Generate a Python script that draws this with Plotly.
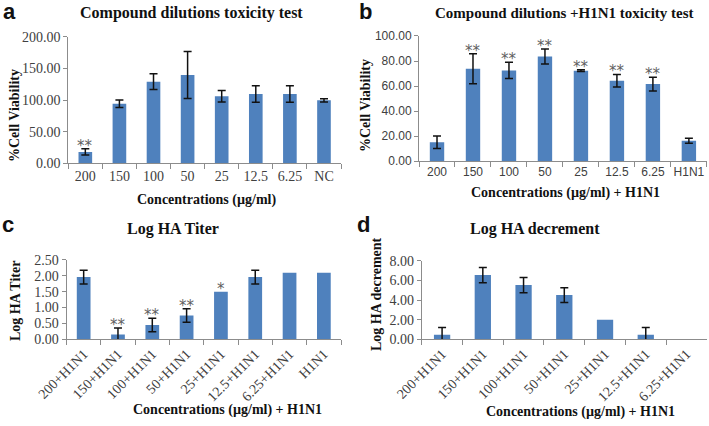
import plotly.graph_objects as go

# panel a
conc_a = ["200", "150", "100", "50", "25", "12.5", "6.25", "NC"]
viab_a = [18, 94, 129, 139.5, 106, 109.5, 109.5, 99.5]
err_a = [5, 6, 12.5, 37, 9, 13, 13, 2.5]
stars_a = ["**", "", "", "", "", "", "", ""]

# panel b
conc_b = ["200", "150", "100", "50", "25", "12.5", "6.25", "H1N1"]
viab_b = [15, 73.9, 72.5, 83.7, 72.3, 64.3, 61.6, 16.3]
err_b = [5, 12, 6.5, 6, 0.7, 5, 5.5, 2]
stars_b = ["", "**", "**", "**", "**", "**", "**", ""]

# panel c (None = no error bar shown)
conc_c = ["200+H1N1", "150+H1N1", "100+H1N1", "50+H1N1", "25+H1N1",
          "12.5+H1N1", "6.25+H1N1", "H1N1"]
titer_c = [1.96, 0.15, 0.45, 0.75, 1.5, 1.96, 2.1, 2.1]
err_c = [0.22, 0.21, 0.21, 0.21, None, 0.22, None, None]
stars_c = ["", "**", "**", "**", "*", "", "", ""]

# panel d
conc_d = ["200+H1N1", "150+H1N1", "100+H1N1", "50+H1N1", "25+H1N1",
          "12.5+H1N1", "6.25+H1N1"]
decr_d = [0.47, 6.54, 5.52, 4.5, 2.0, 0.47, 0]
err_d = [0.73, 0.78, 0.78, 0.75, None, 0.73, None]

BLUE = "#4F81BD"
AXIS = "#8C8C8C"
SERIF = "Liberation Serif"
SANS = "Liberation Sans"

fig = go.Figure()

panels = [
    ("x", "y", conc_a, viab_a, err_a),
    ("x2", "y2", conc_b, viab_b, err_b),
    ("x3", "y3", conc_c, titer_c, err_c),
    ("x4", "y4", conc_d, decr_d, err_d),
]
for xa, ya, cats, vals, errs in panels:
    fig.add_trace(go.Bar(
        x=cats, y=vals, xaxis=xa, yaxis=ya, marker_color=BLUE,
        marker_line_width=0, showlegend=False,
    ))
    # error bars only where the source shows them
    keep = [i for i, e in enumerate(errs) if e is not None]
    fig.add_trace(go.Scatter(
        x=[cats[i] for i in keep], y=[vals[i] for i in keep],
        xaxis=xa, yaxis=ya, mode="markers", marker=dict(opacity=0),
        showlegend=False, hoverinfo="skip",
        error_y=dict(type="data", array=[errs[i] for i in keep],
                     visible=True, color="#111111", thickness=1.5, width=4),
    ))

def xax(domain, anchor, font, cats, angle=0):
    return dict(domain=domain, anchor=anchor, type="category",
                categoryorder="array", categoryarray=cats,
                range=[-0.5, len(cats) - 0.5], automargin=False,
                showline=True, linecolor=AXIS, linewidth=1,
                ticks="outside", tickson="boundaries", ticklen=5,
                tickcolor=AXIS, tickangle=angle, tickfont=font,
                showgrid=False, zeroline=False, fixedrange=True)

def yax(domain, anchor, rng, dtick, font):
    return dict(domain=domain, anchor=anchor, range=rng, dtick=dtick,
                tickformat=".2f", showline=True, linecolor=AXIS,
                linewidth=1, ticks="outside", ticklen=4, tickcolor=AXIS,
                tickfont=font, showgrid=False, zeroline=False,
                automargin=False, fixedrange=True)

serif_tick = dict(family=SERIF, size=14, color="#404040")
sans_tick = dict(family=SANS, size=12, color="#404040")
rot_tick = dict(family=SERIF, size=14, color="#404040")

fig.update_layout(
    width=709, height=426,
    margin=dict(l=0, r=0, t=0, b=0),
    paper_bgcolor="white", plot_bgcolor="white",
    bargap=0.6,
    xaxis=xax([0.0963, 0.481], "y", serif_tick, conc_a),
    yaxis=yax([0.6167, 0.9138], "x", [0, 200], 50, serif_tick),
    xaxis2=xax([0.591, 0.997], "y2", sans_tick, conc_b),
    yaxis2=yax([0.622, 0.9155], "x2", [0, 100], 20, sans_tick),
    xaxis3=xax([0.0938, 0.481], "y3", rot_tick, conc_c, -45),
    yaxis3=yax([0.2035, 0.3897], "x3", [0, 2.5], 0.5, serif_tick),
    xaxis4=xax([0.5948, 0.997], "y4", rot_tick, conc_d, -45),
    yaxis4=yax([0.2035, 0.388], "x4", [0, 8], 2, serif_tick),
)

# significance stars (x given as category index)
star_font = dict(family="DejaVu Sans", size=15, color="#606060")
for xr, yr, vals, errs, stars in [
    ("x", "y", viab_a, err_a, stars_a),
    ("x2", "y2", viab_b, err_b, stars_b),
    ("x3", "y3", titer_c, err_c, stars_c),
]:
    for i, (v, e, s) in enumerate(zip(vals, errs, stars)):
        if s:
            fig.add_annotation(x=i, y=v + (e or 0), xref=xr, yref=yr,
                               text=s, showarrow=False, yanchor="bottom",
                               yshift=-8, font=star_font)

def paper_text(x, y, text, size, family=SERIF, angle=0, bold=True):
    fig.add_annotation(x=x / 709, y=1 - y / 426, xref="paper", yref="paper",
                       text=f"<b>{text}</b>" if bold else text,
                       showarrow=False, textangle=angle,
                       xanchor="center", yanchor="middle",
                       font=dict(family=family, size=size, color="#111111"))

# panel letters
paper_text(9, 12, "a", 22, SANS)
paper_text(365, 12, "b", 22, SANS)
paper_text(8, 224, "c", 22, SANS)
paper_text(363, 224, "d", 22, SANS)

# titles
paper_text(191, 13, "Compound dilutions toxicity test", 16)
paper_text(564, 13, "Compound dilutions +H1N1 toxicity test", 15)
paper_text(173, 229, "Log HA Titer", 16)
paper_text(535, 229, "Log HA decrement", 16)

# axis titles
paper_text(206, 200, "Concentrations (µg/ml)", 14)
paper_text(565, 193, "Concentrations (µg/ml) + H1N1", 14)
paper_text(227, 410, "Concentrations (µg/ml) + H1N1", 14)
paper_text(580, 412, "Concentrations (µg/ml) + H1N1", 14)
paper_text(15, 116, "%Cell Viability", 14, angle=-90)
paper_text(365, 106, "%Cell Viability", 14, angle=-90)
paper_text(15, 301, "Log HA Titer", 14, angle=-90)
paper_text(376, 294, "Log HA decrement", 14, angle=-90)

# page body has a default 8px margin; drop it so the figure fills the window
fig.write_html("out.html", config={"displayModeBar": False},
               post_script="document.body.style.margin='0';")
